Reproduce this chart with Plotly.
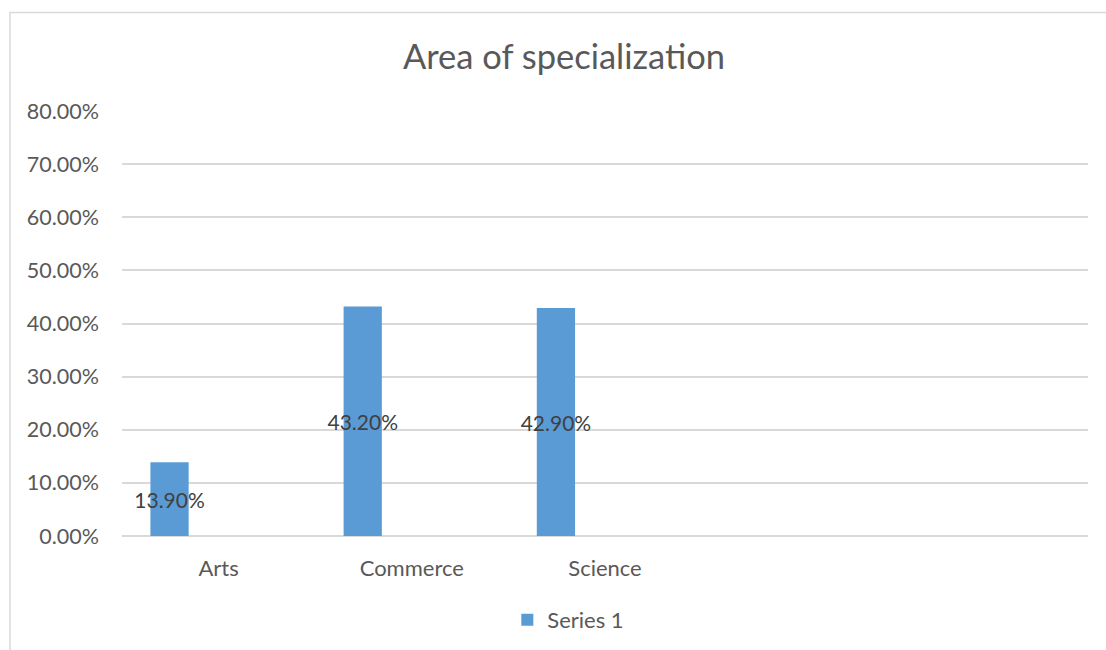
import plotly.graph_objects as go

categories = ["Arts", "Commerce", "Science"]
values = [0.139, 0.432, 0.429]
labels = ["13.90%", "43.20%", "42.90%"]
series_name = "Series 1"
title = "Area of specialization"
ytick_vals = [0, 0.1, 0.2, 0.3, 0.4, 0.5, 0.6, 0.7, 0.8]

positions = list(range(len(categories)))

FONT = "Lato"
W, H = 1106, 650
PT, PB = 111, 114
PH = H - PT - PB

fig = go.Figure()
fig.add_trace(go.Bar(
    x=positions, y=values, name=series_name,
    marker=dict(color="#5b9bd5", line=dict(width=0)),
    width=0.198, offset=-0.353,
    text=labels, textposition="inside", insidetextanchor="middle",
    constraintext="none", textangle=0,
    insidetextfont=dict(family=FONT, size=21, color="#404040"),
    hoverinfo="skip", showlegend=True,
))

fig.update_layout(
    width=W, height=H,
    margin=dict(l=122, r=18, t=PT, b=PB, autoexpand=False),
    paper_bgcolor="white", plot_bgcolor="white",
    font=dict(family=FONT, color="#595959"),
    title=dict(text=title, x=564 / W, xanchor="center", y=1 - 57 / H, yanchor="middle",
               xref="container", yref="container",
               font=dict(family=FONT, size=34.5, color="#595959")),
    xaxis=dict(range=[-0.5, 4.5], tickvals=positions, ticktext=categories,
               showgrid=False, zeroline=False, showline=False, ticks="",
               ticklabelstandoff=17, automargin=False,
               tickfont=dict(family=FONT, size=22, color="#595959")),
    yaxis=dict(range=[0, 0.8], tickvals=ytick_vals, tickformat=".2%",
               showgrid=True, gridcolor="#d9d9d9", gridwidth=1.5,
               zeroline=True, zerolinecolor="#d9d9d9", zerolinewidth=1.5,
               showline=False, ticks="", ticklabelstandoff=22, automargin=False,
               tickfont=dict(family=FONT, size=21.5, color="#595959")),
    legend=dict(orientation="h", x=511 / W, xanchor="center",
                y=-(620 - (H - PB)) / PH, yanchor="middle",
                font=dict(family=FONT, size=22, color="#595959"), itemwidth=30),
    shapes=[dict(type="rect", xref="paper", yref="paper",
                 x0=(10 - 122) / (W - 140), x1=1.2, y0=-0.5, y1=1 + (PT - 12.5) / PH,
                 line=dict(color="#d9d9d9", width=1.5), fillcolor="rgba(0,0,0,0)", layer="below")],
)

fig.write_html("out.html")
